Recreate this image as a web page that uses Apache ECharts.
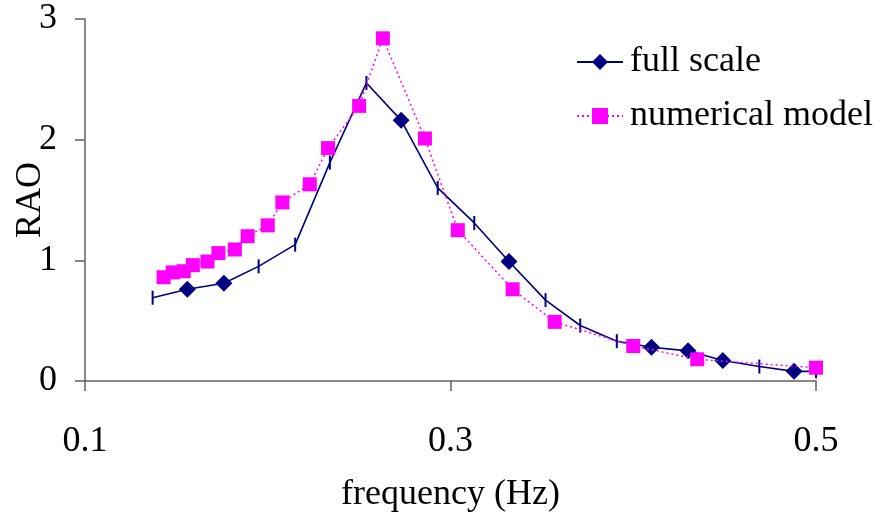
<!DOCTYPE html>
<html>
<head>
<meta charset="utf-8">
<script src="https://cdn.jsdelivr.net/npm/echarts@6/dist/echarts.min.js"></script>
<style>
  html, body { margin: 0; padding: 0; background: #ffffff; }
  #chart { width: 882px; height: 513px; }
</style>
</head>
<body>
<div id="chart"></div>
<script>
// Response amplitude operator: full-scale measurements vs. numerical model
const seriesNames = ['full scale', 'numerical model'];

const fullFreq = [0.137, 0.156, 0.176, 0.195, 0.215, 0.234, 0.254, 0.273, 0.293, 0.313,
                  0.332, 0.352, 0.371, 0.391, 0.410, 0.430, 0.449, 0.469, 0.488, 0.500];
const fullRao  = [0.69, 0.76, 0.81, 0.95, 1.13, 1.81, 2.47, 2.16, 1.60, 1.31,
                  0.99, 0.67, 0.46, 0.33, 0.28, 0.25, 0.17, 0.12, 0.08, 0.08];
// marker per full-scale point: 'd' = diamond, 't' = short vertical tick
const fullMarker = ['t', 'd', 'd', 't', 't', 't', 't', 'd', 't', 't',
                    'd', 't', 't', 't', 'd', 'd', 'd', 't', 'd', 't'];

const numFreq = [0.143, 0.148, 0.154, 0.159, 0.167, 0.173, 0.182, 0.189, 0.200, 0.208, 0.223,
                 0.233, 0.250, 0.263, 0.286, 0.304, 0.334, 0.357, 0.400, 0.435, 0.500];
const numRao  = [0.86, 0.90, 0.91, 0.96, 0.99, 1.06, 1.09, 1.20, 1.29, 1.48, 1.63,
                 1.93, 2.28, 2.84, 2.01, 1.25, 0.76, 0.49, 0.29, 0.18, 0.11];

const xTicks = [0.1, 0.3, 0.5];
const yTicks = [0, 1, 2, 3];

const FONT = '"Liberation Serif", "Times New Roman", serif';
const NAVY = '#000080';
const MAGENTA = '#ff00ff';
const AXIS = '#606060';

const fullData = fullFreq.map((f, i) => {
  const item = { value: [f, fullRao[i]] };
  if (fullMarker[i] === 't') {
    item.symbol = 'rect';
    item.symbolSize = [2, 14];
  }
  return item;
});
const numData = numFreq.map((f, i) => [f, numRao[i]]);

const chart = echarts.init(document.getElementById('chart'), null, { renderer: 'canvas' });

chart.setOption({
  backgroundColor: '#ffffff',
  animation: false,
  textStyle: { fontFamily: FONT },
  grid: { left: 85, right: 66, top: 19, bottom: 132, containLabel: false, outerBoundsMode: 'none' },
  legend: {
    orient: 'vertical',
    left: 576,
    top: 42,
    padding: 0,
    itemWidth: 46,
    itemHeight: 20,
    itemGap: 14,
    data: seriesNames,
    textStyle: { fontFamily: FONT, fontSize: 36, color: '#000', lineHeight: 40, padding: [0, 0, 0, 2] }
  },
  xAxis: {
    type: 'value',
    min: xTicks[0],
    max: xTicks[xTicks.length - 1],
    interval: xTicks[1] - xTicks[0],
    name: 'frequency (Hz)',
    nameLocation: 'middle',
    nameGap: 96,
    nameMoveOverlap: false,
    nameTextStyle: { fontFamily: FONT, fontSize: 36, color: '#000' },
    axisLine: { onZero: false, lineStyle: { color: AXIS, width: 1.5 } },
    axisTick: { show: true, length: 10, lineStyle: { color: AXIS, width: 1.5 } },
    axisLabel: {
      margin: 43,
      fontFamily: FONT, fontSize: 36, color: '#000',
      formatter: v => v.toFixed(1)
    },
    splitLine: { show: false }
  },
  yAxis: {
    type: 'value',
    min: yTicks[0],
    max: yTicks[yTicks.length - 1],
    interval: yTicks[1] - yTicks[0],
    name: 'RAO',
    nameLocation: 'middle',
    nameGap: 36,
    nameRotate: 90,
    nameMoveOverlap: false,
    nameTextStyle: { fontFamily: FONT, fontSize: 36, color: '#000' },
    axisLine: { show: true, lineStyle: { color: AXIS, width: 1.5 } },
    axisTick: { show: true, length: 10, lineStyle: { color: AXIS, width: 1.5 } },
    axisLabel: { margin: 28, fontFamily: FONT, fontSize: 36, color: '#000' },
    splitLine: { show: false }
  },
  series: [
    {
      name: seriesNames[0],
      type: 'line',
      data: fullData,
      symbol: 'diamond',
      symbolSize: 17,
      showAllSymbol: true,
      color: NAVY,
      itemStyle: { color: NAVY },
      lineStyle: { color: NAVY, width: 1.6 },
      z: 2
    },
    {
      name: seriesNames[1],
      type: 'line',
      data: numData,
      symbol: 'rect',
      symbolSize: 14,
      showAllSymbol: true,
      color: MAGENTA,
      itemStyle: { color: MAGENTA },
      lineStyle: { color: MAGENTA, width: 1.5, type: [2, 3] },
      z: 3
    }
  ]
});
</script>
</body>
</html>
